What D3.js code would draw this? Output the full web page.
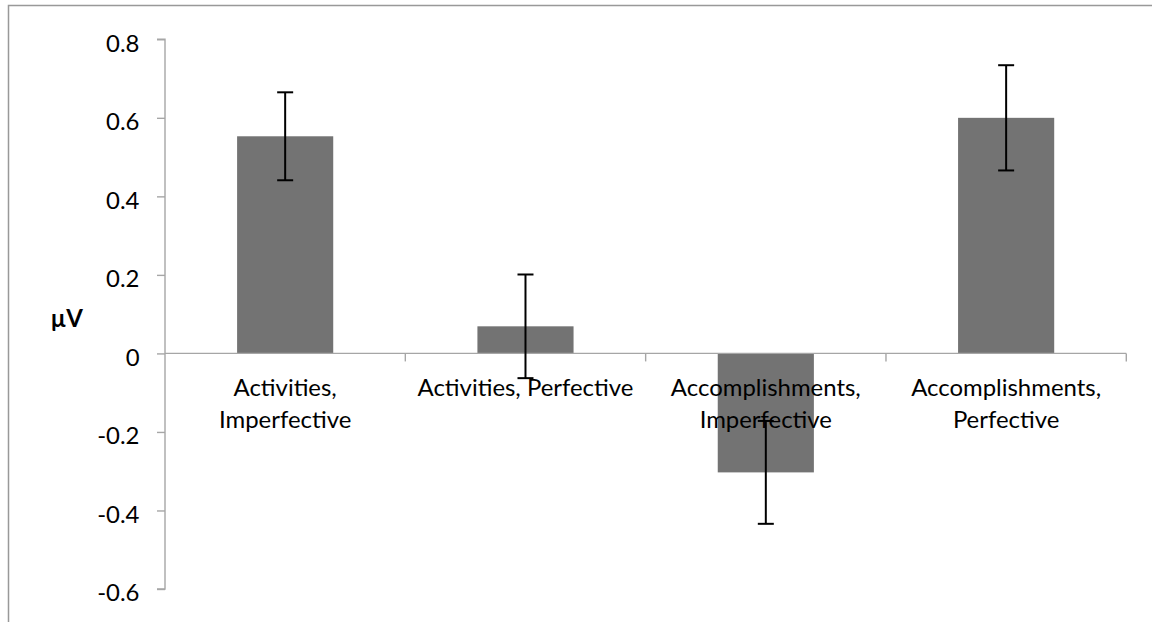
<!DOCTYPE html>
<html>
<head>
<meta charset="utf-8">
<script src="https://cdn.jsdelivr.net/npm/d3@7/dist/d3.min.js"></script>
<style>
  html, body { margin: 0; padding: 0; background: #fff; }
  svg { display: block; }
  text { font-family: Lato, "Open Sans", "Liberation Sans", sans-serif; fill: #000; }
</style>
</head>
<body>
<svg id="chart" width="1152" height="622"></svg>
<script>
// Mean amplitude per condition, with error bar half-widths (µV)
const categories = [
  "Activities, Imperfective",
  "Activities, Perfective",
  "Accomplishments, Imperfective",
  "Accomplishments, Perfective"
];
const values = [0.553, 0.069, -0.303, 0.600];
const errors = [0.112, 0.132, 0.131, 0.134];
const yTicks = [-0.6, -0.4, -0.2, 0, 0.2, 0.4, 0.6, 0.8];
const yTitle = "µV";

const W = 1152, H = 622;
const plot = { left: 165, right: 1126.3, top: 39.3, bottom: 589 };

const svg = d3.select("#chart");

// pick a font size so the category text runs at a Calibri-like width
const probe = svg.append("text").attr("font-size", 20).text("Activities, Perfective");
const fontSize = 20 * 216 / probe.node().getComputedTextLength();
probe.remove();

const y = d3.scaleLinear().domain([-0.6, 0.8]).range([plot.bottom, plot.top]);
const x = d3.scaleBand().domain(categories)
  .range([plot.left, plot.right])
  .paddingInner(0.6).paddingOuter(0.3);

// outer chart border (left and top edges visible in the frame)
svg.append("rect")
  .attr("x", 8.5).attr("y", 5.5)
  .attr("width", W + 20).attr("height", H + 20)
  .attr("fill", "none").attr("stroke", "#999").attr("stroke-width", 1.5);

const data = categories.map((c, i) => ({ c, v: values[i], e: errors[i] }));

// bars
svg.append("g").selectAll("rect").data(data).join("rect")
  .attr("x", d => x(d.c))
  .attr("width", x.bandwidth())
  .attr("y", d => y(Math.max(0, d.v)))
  .attr("height", d => Math.abs(y(d.v) - y(0)))
  .attr("fill", "#737373");

// y axis
const yAxis = d3.axisLeft(y).tickValues(yTicks).tickSize(8)
  .tickFormat(d => d === 0 ? "0" : d.toFixed(1));
const gy = svg.append("g").attr("transform", `translate(${plot.left},0)`).call(yAxis);
gy.select(".domain").attr("stroke", "#a6a6a6").attr("stroke-width", 1.4)
  .attr("d", `M-8,${plot.top}H0V${plot.bottom}H-8`);
gy.selectAll(".tick line").attr("stroke", "#a6a6a6").attr("stroke-width", 1.4);
gy.selectAll(".tick text")
  .attr("x", -25.5)
  .attr("dy", null)
  .attr("y", fontSize * 0.35 + 3.5)
  .attr("font-size", fontSize)
  .attr("font-family", null)
  .attr("fill", "#000");

// category axis along zero, with ticks at band boundaries
const zeroY = y(0);
const gx = svg.append("g");
gx.append("line")
  .attr("x1", plot.left).attr("x2", plot.right)
  .attr("y1", zeroY).attr("y2", zeroY)
  .attr("stroke", "#a6a6a6").attr("stroke-width", 1.4);
const bounds = categories.map(c => x(c) - x.step() * x.paddingInner() / 2 + x.step());
gx.selectAll("line.tk").data(bounds).join("line").attr("class", "tk")
  .attr("x1", d => d).attr("x2", d => d)
  .attr("y1", zeroY).attr("y2", zeroY + 8)
  .attr("stroke", "#a6a6a6").attr("stroke-width", 1.4);

// category labels, wrapped at the comma when wider than the slot
const maxW = 228;
const lbl = svg.append("g").selectAll("text").data(data).join("text")
  .attr("text-anchor", "middle")
  .attr("font-size", fontSize)
  .attr("x", d => x(d.c) + x.bandwidth() / 2)
  .attr("y", zeroY + 43);
lbl.each(function(d) {
  const t = d3.select(this);
  t.text(d.c);
  if (this.getComputedTextLength() > maxW) {
    const parts = d.c.split(", ");
    t.text(null);
    parts.forEach((p, i) => {
      t.append("tspan")
        .attr("x", x(d.c) + x.bandwidth() / 2)
        .attr("dy", i === 0 ? 0 : 31.6)
        .text(i < parts.length - 1 ? p + "," : p);
    });
  }
});

// y title
svg.append("text")
  .attr("x", 66.7).attr("y", 327)
  .attr("text-anchor", "middle")
  .attr("font-size", fontSize)
  .attr("font-weight", "bold")
  .text(yTitle);

// error bars
const eb = svg.append("g").attr("stroke", "#000").attr("stroke-width", 2);
data.forEach(d => {
  const cx = x(d.c) + x.bandwidth() / 2;
  const hi = y(d.v + d.e), lo = y(d.v - d.e);
  eb.append("line").attr("x1", cx).attr("x2", cx).attr("y1", hi).attr("y2", lo);
  eb.append("line").attr("x1", cx - 8).attr("x2", cx + 8).attr("y1", hi).attr("y2", hi);
  eb.append("line").attr("x1", cx - 8).attr("x2", cx + 8).attr("y1", lo).attr("y2", lo);
});
</script>
</body>
</html>
